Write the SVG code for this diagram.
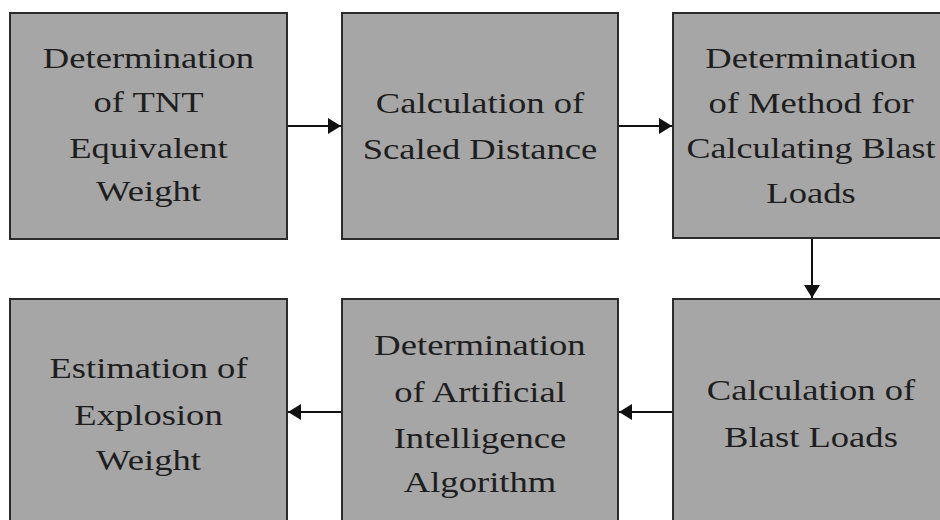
<svg xmlns="http://www.w3.org/2000/svg" width="940" height="520" viewBox="0 0 940 520">
<style>
.box{fill:#a6a6a6;stroke:#2b2b2b;stroke-width:2}
.t{font-family:"Liberation Serif","Times New Roman",serif;font-size:30px;fill:#1e1e1e;text-anchor:middle}
.c{stroke:#111;stroke-width:2;fill:none}
</style>
<defs>
<marker id="ah" viewBox="0 0 13 16" refX="13" refY="8" markerWidth="13" markerHeight="16" markerUnits="userSpaceOnUse" orient="auto">
<path d="M0,0 L13,8 L0,16 z" fill="#111"/>
</marker>
</defs>
<rect width="940" height="520" fill="#fff"/>
<g id="n1">
<rect class="box" x="10" y="13" width="277" height="226"/>
<text class="t" transform="translate(148.5,68) scale(1.22,1)">Determination</text>
<text class="t" transform="translate(148.5,112) scale(1.22,1)">of TNT</text>
<text class="t" transform="translate(148.5,158) scale(1.22,1)">Equivalent</text>
<text class="t" transform="translate(148.5,201) scale(1.22,1)">Weight</text>
</g>
<g id="n2">
<rect class="box" x="342" y="13" width="276" height="226"/>
<text class="t" transform="translate(480,113) scale(1.22,1)">Calculation of</text>
<text class="t" transform="translate(480,159) scale(1.22,1)">Scaled Distance</text>
</g>
<g id="n3">
<rect class="box" x="673" y="13" width="276" height="225"/>
<text class="t" transform="translate(811,68) scale(1.22,1)">Determination</text>
<text class="t" transform="translate(811,113) scale(1.22,1)">of Method for</text>
<text class="t" transform="translate(811,158) scale(1.2,1)">Calculating Blast</text>
<text class="t" transform="translate(811,203) scale(1.22,1)">Loads</text>
</g>
<g id="n4">
<rect class="box" x="10" y="299" width="277" height="230"/>
<text class="t" transform="translate(148.5,378) scale(1.22,1)">Estimation of</text>
<text class="t" transform="translate(148.5,425) scale(1.22,1)">Explosion</text>
<text class="t" transform="translate(148.5,470) scale(1.22,1)">Weight</text>
</g>
<g id="n5">
<rect class="box" x="342" y="299" width="276" height="230"/>
<text class="t" transform="translate(480,355) scale(1.22,1)">Determination</text>
<text class="t" transform="translate(480,402) scale(1.22,1)">of Artificial</text>
<text class="t" transform="translate(480,448) scale(1.22,1)">Intelligence</text>
<text class="t" transform="translate(480,492) scale(1.22,1)">Algorithm</text>
</g>
<g id="n6">
<rect class="box" x="673" y="299" width="276" height="230"/>
<text class="t" transform="translate(811,400) scale(1.22,1)">Calculation of</text>
<text class="t" transform="translate(811,447) scale(1.22,1)">Blast Loads</text>
</g>
<g id="connectors">
<line class="c" x1="288" y1="126" x2="341" y2="126" marker-end="url(#ah)"/>
<line class="c" x1="619" y1="126" x2="672" y2="126" marker-end="url(#ah)"/>
<line class="c" x1="812" y1="239" x2="812" y2="298" marker-end="url(#ah)"/>
<line class="c" x1="672" y1="412" x2="619" y2="412" marker-end="url(#ah)"/>
<line class="c" x1="341" y1="412" x2="288" y2="412" marker-end="url(#ah)"/>
</g>
</svg>
